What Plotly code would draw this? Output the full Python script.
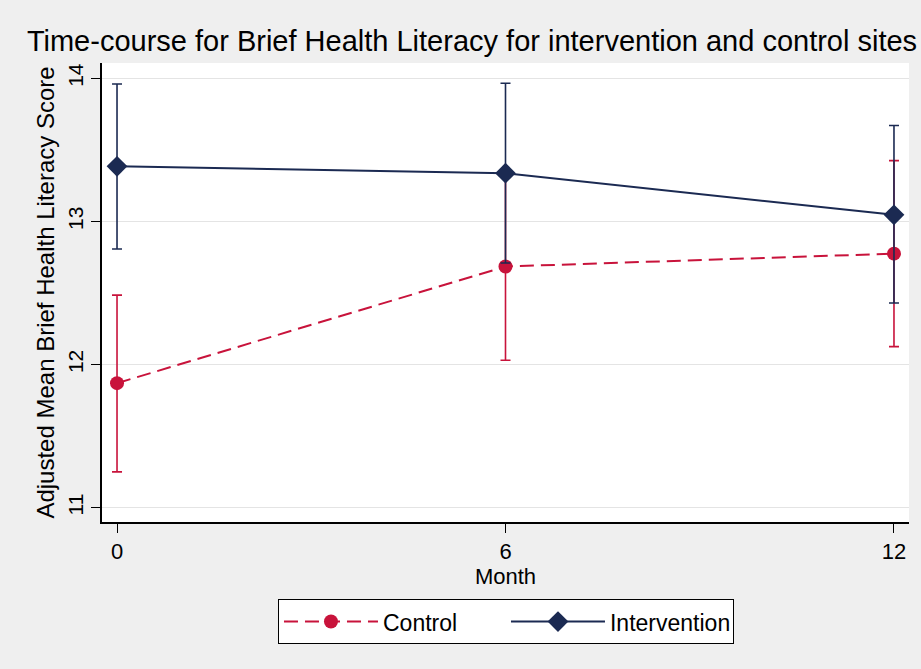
import plotly.graph_objects as go

months = [0, 6, 12]
control_mean = [11.87, 12.685, 12.775]
control_lo = [11.25, 12.03, 12.125]
control_hi = [12.485, 13.34, 13.425]
interv_mean = [13.385, 13.337, 13.046]
interv_lo = [12.807, 12.71, 12.43]
interv_hi = [13.96, 13.965, 13.67]
y_ticks = [11, 12, 13, 14]
x_ticks = [0, 6, 12]

RED = "#c8133b"
NAVY = "#1b2a52"
FONT = "Liberation Sans, Arial, Helvetica, sans-serif"

def err(mean, lo, hi):
    return dict(type="data", symmetric=False,
                array=[h - m for h, m in zip(hi, mean)],
                arrayminus=[m - l for m, l in zip(mean, lo)])

fig = go.Figure()
fig.add_trace(go.Scatter(
    x=months, y=control_mean, name="Control", mode="lines+markers",
    line=dict(color=RED, width=2, dash="14px,7px"),
    marker=dict(symbol="circle", size=14, color=RED),
    error_y=dict(err(control_mean, control_lo, control_hi), color=RED, thickness=1.6, width=5),
))
fig.add_trace(go.Scatter(
    x=months, y=interv_mean, name="Intervention", mode="lines+markers",
    line=dict(color=NAVY, width=2),
    marker=dict(symbol="diamond", size=16, color=NAVY),
    error_y=dict(err(interv_mean, interv_lo, interv_hi), color=NAVY, thickness=1.6, width=5),
))

fig.update_layout(
    width=921, height=669,
    margin=dict(l=102, r=12, t=63, b=147),
    paper_bgcolor="#efefef", plot_bgcolor="white",
    font=dict(family=FONT, size=20, color="black"),
    title=dict(text="Time-course for Brief Health Literacy for intervention and control sites",
               x=472/921, xanchor="center", xref="container",
               y=1-41/669, yanchor="middle", yref="container",
               font=dict(size=29, color="black")),
    showlegend=True,
    legend=dict(orientation="h", x=0.5006, xanchor="center", y=-0.168, yanchor="top",
                bgcolor="white", bordercolor="black", borderwidth=1,
                font=dict(size=23), itemwidth=94, itemsizing="trace",
                entrywidth=118, entrywidthmode="pixels",
                traceorder="normal"),
)
fig.update_xaxes(range=[-0.232, 12.232], tickvals=x_ticks, ticktext=[str(v) for v in x_ticks],
                 tickfont=dict(size=22),
                 showgrid=False, zeroline=False, showline=True, linecolor="black", linewidth=1.5,
                 ticks="outside", ticklen=9, tickcolor="black", tickwidth=1,
                 title=dict(text="Month", standoff=2, font=dict(size=22)))
fig.update_yaxes(range=[10.90, 14.107], tickvals=y_ticks, ticktext=[str(v) for v in y_ticks],
                 tickangle=-90, tickfont=dict(size=21),
                 showgrid=True, gridcolor="#e4e4e4", gridwidth=1,
                 zeroline=False, showline=True, linecolor="black", linewidth=1.5,
                 ticks="outside", ticklen=9, tickcolor="black", tickwidth=1,
                 title=dict(text="Adjusted Mean Brief Health Literacy Score", standoff=2))

fig.write_html("out.html", config={"displayModeBar": False},
               post_script="document.body.style.margin='0';")
